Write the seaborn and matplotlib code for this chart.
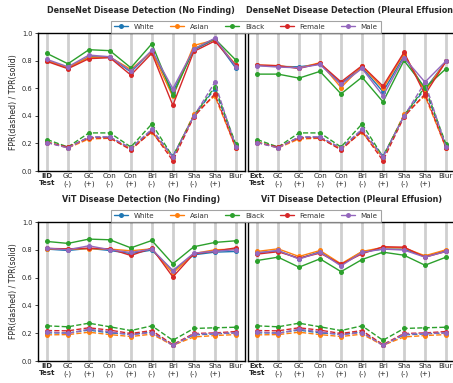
import matplotlib
matplotlib.use("Agg")
import matplotlib.pyplot as plt
import seaborn as sns
import pandas as pd
from matplotlib.lines import Line2D

# ---- data -------------------------------------------------------------
groups = ["White", "Asian", "Black", "Female", "Male"]
shift_labels = ["GC\n(-)", "GC\n(+)", "Con\n(-)", "Con\n(+)", "Bri\n(-)",
                "Bri\n(+)", "Sha\n(-)", "Sha\n(+)", "Blur"]
iid_label = "IID\nTest"
ext_label = "Ext.\nTest"

# DenseNet, No Finding (IID test + shifts)
densenet_nf_tpr = {
    "White":  [0.800, 0.748, 0.828, 0.826, 0.717, 0.869, 0.574, 0.877, 0.954, 0.746],
    "Asian":  [0.799, 0.751, 0.823, 0.826, 0.736, 0.864, 0.540, 0.910, 0.949, 0.770],
    "Black":  [0.852, 0.777, 0.879, 0.872, 0.748, 0.922, 0.549, 0.884, 0.958, 0.804],
    "Female": [0.794, 0.741, 0.814, 0.821, 0.695, 0.853, 0.476, 0.866, 0.942, 0.766],
    "Male":   [0.809, 0.755, 0.840, 0.828, 0.724, 0.875, 0.597, 0.884, 0.962, 0.757],
}
densenet_nf_fpr = {
    "White":  [0.208, 0.170, 0.245, 0.245, 0.160, 0.298, 0.107, 0.400, 0.595, 0.180],
    "Asian":  [0.210, 0.167, 0.232, 0.237, 0.162, 0.282, 0.097, 0.411, 0.545, 0.167],
    "Black":  [0.228, 0.174, 0.276, 0.276, 0.174, 0.341, 0.103, 0.400, 0.609, 0.194],
    "Female": [0.206, 0.174, 0.240, 0.240, 0.153, 0.287, 0.075, 0.392, 0.558, 0.170],
    "Male":   [0.206, 0.167, 0.247, 0.247, 0.167, 0.302, 0.100, 0.397, 0.642, 0.174],
}

# DenseNet, Pleural Effusion (external test + shifts)
densenet_pe_tpr = {
    "White":  [0.765, 0.758, 0.755, 0.775, 0.634, 0.751, 0.574, 0.835, 0.591, 0.794],
    "Asian":  [0.768, 0.763, 0.746, 0.785, 0.605, 0.760, 0.598, 0.850, 0.579, 0.794],
    "Black":  [0.702, 0.702, 0.673, 0.722, 0.559, 0.680, 0.501, 0.801, 0.603, 0.741],
    "Female": [0.768, 0.763, 0.743, 0.780, 0.646, 0.763, 0.615, 0.860, 0.554, 0.794],
    "Male":   [0.763, 0.753, 0.748, 0.772, 0.627, 0.743, 0.545, 0.821, 0.644, 0.797],
}
densenet_pe_fpr = {
    "White":  [0.208, 0.170, 0.245, 0.245, 0.160, 0.298, 0.107, 0.400, 0.595, 0.180],
    "Asian":  [0.210, 0.167, 0.232, 0.237, 0.162, 0.282, 0.097, 0.411, 0.545, 0.167],
    "Black":  [0.228, 0.174, 0.276, 0.276, 0.174, 0.341, 0.103, 0.400, 0.609, 0.194],
    "Female": [0.206, 0.174, 0.240, 0.240, 0.153, 0.287, 0.075, 0.392, 0.558, 0.170],
    "Male":   [0.206, 0.167, 0.247, 0.247, 0.167, 0.302, 0.100, 0.397, 0.642, 0.174],
}

# ViT, No Finding
vit_nf_tpr = {
    "White":  [0.805, 0.795, 0.810, 0.795, 0.773, 0.798, 0.648, 0.764, 0.783, 0.788],
    "Asian":  [0.807, 0.805, 0.807, 0.805, 0.793, 0.807, 0.631, 0.773, 0.800, 0.805],
    "Black":  [0.860, 0.846, 0.877, 0.872, 0.814, 0.867, 0.699, 0.822, 0.853, 0.865],
    "Female": [0.810, 0.807, 0.812, 0.807, 0.759, 0.812, 0.605, 0.771, 0.790, 0.814],
    "Male":   [0.812, 0.800, 0.829, 0.800, 0.781, 0.805, 0.651, 0.776, 0.790, 0.800],
}
vit_nf_fpr = {
    "White":  [0.202, 0.202, 0.222, 0.202, 0.193, 0.207, 0.113, 0.188, 0.195, 0.202],
    "Asian":  [0.188, 0.190, 0.207, 0.190, 0.176, 0.193, 0.113, 0.173, 0.183, 0.190],
    "Black":  [0.253, 0.246, 0.272, 0.246, 0.219, 0.253, 0.149, 0.234, 0.239, 0.243],
    "Female": [0.219, 0.217, 0.239, 0.222, 0.198, 0.219, 0.118, 0.198, 0.202, 0.212],
    "Male":   [0.210, 0.198, 0.229, 0.210, 0.188, 0.205, 0.113, 0.193, 0.198, 0.202],
}

# ViT, Pleural Effusion
vit_pe_tpr = {
    "White":  [0.778, 0.793, 0.737, 0.786, 0.692, 0.786, 0.805, 0.805, 0.752, 0.793],
    "Asian":  [0.788, 0.807, 0.752, 0.795, 0.699, 0.788, 0.817, 0.814, 0.757, 0.800],
    "Black":  [0.723, 0.747, 0.675, 0.735, 0.643, 0.730, 0.783, 0.761, 0.689, 0.747],
    "Female": [0.769, 0.786, 0.740, 0.776, 0.696, 0.771, 0.822, 0.819, 0.747, 0.788],
    "Male":   [0.778, 0.795, 0.733, 0.783, 0.684, 0.781, 0.805, 0.798, 0.747, 0.788],
}
vit_pe_fpr = {
    "White":  [0.202, 0.202, 0.222, 0.202, 0.193, 0.207, 0.113, 0.188, 0.195, 0.202],
    "Asian":  [0.188, 0.190, 0.207, 0.190, 0.176, 0.193, 0.113, 0.173, 0.183, 0.190],
    "Black":  [0.253, 0.246, 0.272, 0.246, 0.219, 0.253, 0.149, 0.234, 0.239, 0.243],
    "Female": [0.219, 0.217, 0.239, 0.222, 0.198, 0.219, 0.118, 0.198, 0.202, 0.212],
    "Male":   [0.210, 0.198, 0.229, 0.210, 0.188, 0.205, 0.113, 0.193, 0.198, 0.202],
}

# ---- style ------------------------------------------------------------
sns.set_theme(style="whitegrid")
plt.rcParams["font.family"] = ["DejaVu Sans"]
palette = dict(zip(groups, sns.color_palette("tab10")[:5]))

W, H = 453, 383
fig = plt.figure(figsize=(W / 100, H / 100), dpi=100)


def px_axes(left, top, right, bottom):
    return fig.add_axes([left / W, 1 - bottom / H, (right - left) / W, (bottom - top) / H])


def draw_panel(ax, tpr, fpr, first_label, title, show_y):
    xs = list(range(10))
    for g in groups:
        df = pd.DataFrame({"x": xs, "tpr": tpr[g], "fpr": fpr[g]})
        sns.lineplot(data=df, x="x", y="tpr", ax=ax, color=palette[g], marker="o",
                     markersize=3.6, markeredgewidth=0, linewidth=1.0, sort=False,
                     legend=False)
        sns.lineplot(data=df, x="x", y="fpr", ax=ax, color=palette[g], marker="o",
                     markersize=3.6, markeredgewidth=0, linewidth=1.0, sort=False,
                     linestyle="--", legend=False)
    ax.set_xlim(-0.45, 9.43)
    ax.set_ylim(0, 1.0)
    ax.set_xticks(xs)
    ax.set_xticklabels([first_label] + shift_labels, fontsize=5.1, color="0.15")
    ax.get_xticklabels()[0].set_fontweight("bold")
    ax.tick_params(axis="x", length=0, pad=1.5)
    ax.set_yticks([0, 0.2, 0.4, 0.6, 0.8, 1.0])
    if show_y:
        ax.set_yticklabels(["0.0", "0.2", "0.4", "0.6", "0.8", "1.0"], fontsize=4.8,
                           color="0.15")
        ax.tick_params(axis="y", length=2, width=0.6, pad=1.5, left=True)
        ax.set_ylabel("FPR(dashed) / TPR(solid)", fontsize=5.6, labelpad=3, color="0.15")
    else:
        ax.set_yticklabels([])
        ax.tick_params(axis="y", length=0)
        ax.set_ylabel("")
    ax.set_xlabel("")
    ax.yaxis.grid(False)
    ax.xaxis.grid(True, color="#cfcfcf", linewidth=2.0)
    for sp in ax.spines.values():
        sp.set_color("black")
        sp.set_linewidth(1.0)
    ax.set_title(title, fontsize=5.8, fontweight="bold", pad=14.5)


ax_tl = px_axes(37.5, 33, 244.8, 171)
ax_tr = px_axes(247.6, 33, 455, 171)
ax_bl = px_axes(37.5, 222, 244.8, 361)
ax_br = px_axes(247.6, 222, 455, 361)

draw_panel(ax_tl, densenet_nf_tpr, densenet_nf_fpr, iid_label,
           "DenseNet Disease Detection (No Finding)", True)
draw_panel(ax_tr, densenet_pe_tpr, densenet_pe_fpr, ext_label,
           "DenseNet Disease Detection (Pleural Effusion)", False)
draw_panel(ax_bl, vit_nf_tpr, vit_nf_fpr, iid_label,
           "ViT Disease Detection (No Finding)", True)
draw_panel(ax_br, vit_pe_tpr, vit_pe_fpr, ext_label,
           "ViT Disease Detection (Pleural Effusion)", False)

handles = [Line2D([], [], color=palette[g], marker="o", markersize=3.6,
                  markeredgewidth=0, linewidth=1.0) for g in groups]
for top in (33, 222):
    leg = fig.legend(handles, groups, loc="lower center",
                     bbox_to_anchor=(246 / W, 1 - top / H), ncol=5, fontsize=5.1,
                     frameon=True, borderaxespad=0, fancybox=False,
                     handlelength=2.0, columnspacing=2.2, borderpad=0.45)
    leg.get_frame().set_edgecolor("0.55")
    leg.get_frame().set_linewidth(0.8)
    for t in leg.get_texts():
        t.set_color("0.2")

fig.savefig("out.png", dpi=100, facecolor="white")
